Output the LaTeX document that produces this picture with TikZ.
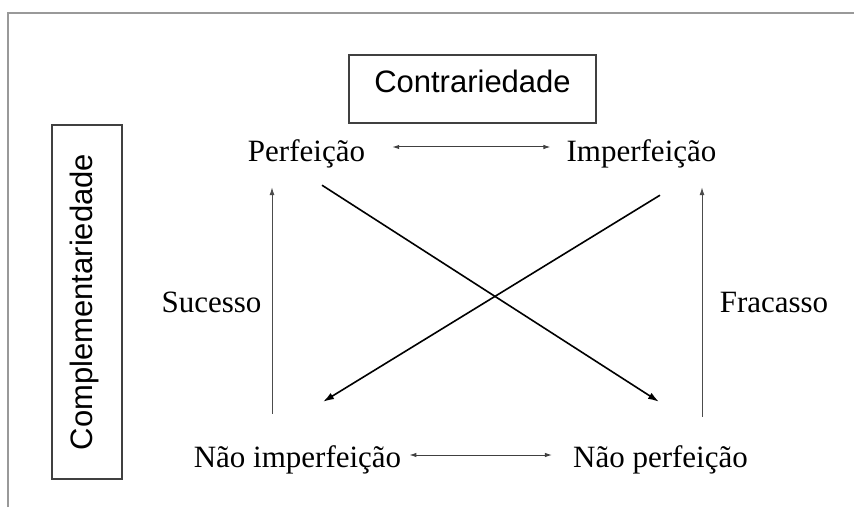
\documentclass[tikz,border=0pt]{standalone}
\usepackage{fontspec}
\setmainfont{Liberation Serif}
\setsansfont{Liberation Sans}
\usetikzlibrary{arrows.meta, calc}

\begin{document}
\begin{tikzpicture}[x=1pt, y=1pt,
    word/.style={font=\fontsize{31}{36}\selectfont, inner sep=0pt, text height=22pt, text depth=7pt, anchor=base},
    tag/.style={draw=black!75, line width=1.2pt, font=\sffamily\fontsize{31}{36}\selectfont, inner sep=0pt, anchor=base},
    link/.style={black!75, line width=1pt, {Latex[length=7pt,width=4.5pt]}-{Latex[length=7pt,width=4.5pt]}},
    rise/.style={black!70, line width=1pt, -{Latex[length=8pt,width=5pt]}},
    cross/.style={black, line width=1.6pt, -{Latex[length=11pt,width=7pt]}}]

        % page size, and the frame (open at the bottom)
        \useasboundingbox (0,0) rectangle (854,507);
        \draw[black!40, line width=2pt] (8,0) -- (8,494) -- (854,494);

        % the two boxed titles
        \node[tag, minimum width=247pt, text height=38pt, text depth=30pt] (contr) at (472.5,414) {Contrariedade};
        \node[tag, rotate=90, minimum width=354pt, text height=40pt, text depth=30pt] (compl) at (92,205) {Complementariedade};

        % the four corners of the square
        \node[word] (perf)   at (306.5,345) {Perfeição};
        \node[word] (imperf) at (641.5,345) {Imperfeição};
        \node[word] (naoimp) at (297.5,40)  {Não imperfeição};
        \node[word] (naoperf) at (660.5,40) {Não perfeição};

        % side labels
        \node[word] (suc)  at (211.5,195) {Sucesso};
        \node[word] (frac) at (774,195)   {Fracasso};

        % columns of the two upward arrows
        \coordinate (colL) at (272,0);
        \coordinate (colR) at (702,0);

        % contraries, top and bottom
        \draw[link, shorten <=27pt, shorten >=16pt] ([yshift=15pt]perf.base east) -- ([yshift=15pt]imperf.base west);
        \draw[link, shorten <=8pt, shorten >=21pt] ([yshift=12pt]naoimp.base east) -- ([yshift=12pt]naoperf.base west);

	% sucesso and fracasso
        \draw[rise, shorten <=31pt, shorten >=18pt] (naoimp.north -| colL) -- (perf.south -| colL);
        \draw[rise, shorten <=28pt, shorten >=18pt] (naoperf.north -| colR) -- (imperf.south -| colR);

        % the crossing diagonals
        \draw[cross] ($(perf.south)+(15.5,-16)$) -- ($(naoperf.north)+(-1.5,43)$);
        \draw[cross] ($(imperf.south)+(18.5,-26)$) -- ($(naoimp.north)+(25.5,43)$);

\end{tikzpicture}
\end{document}
